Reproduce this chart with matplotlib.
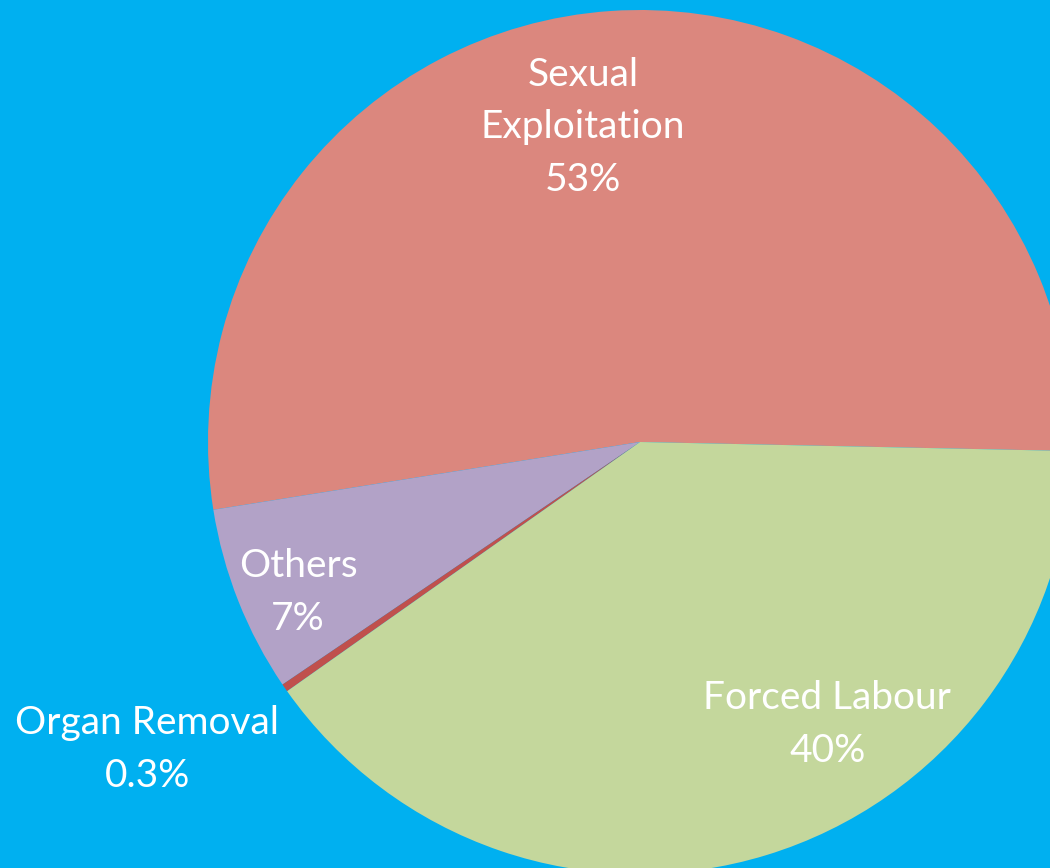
import matplotlib
matplotlib.use("Agg")
import matplotlib.pyplot as plt
import numpy as np

categories = ["Sexual\nExploitation", "Others", "Organ Removal", "Forced Labour"]
values = [53, 7, 0.3, 40]
pct_labels = ["53%", "7%", "0.3%", "40%"]
colors = ["#DB877E", "#B2A2C7", "#C0504D", "#C4D79C"]

bg = "#00B0F0"
W, H = 1050, 868
cx, cy, R = 640, 442, 432

fig = plt.figure(figsize=(W / 100, H / 100), dpi=100, facecolor=bg)
ax = fig.add_axes([0, 0, 1, 1])
ax.set_facecolor(bg)
ax.pie(values, colors=colors, startangle=-1.2, counterclock=True,
       wedgeprops=dict(linewidth=0), radius=1.0)
ax.set_aspect("auto")
ax.set_xlim(-cx / R, (W - cx) / R)
ax.set_ylim(-(H - cy) / R, cy / R)
ax.axis("off")

# label placement (angle in degrees, radial distance)
label_pos = [(100.3, 0.74), (203.8, 0.865), (212.0, 1.345), (-56.5, 0.785)]
for cat, pct, (ang, r) in zip(categories, pct_labels, label_pos):
    a = np.deg2rad(ang)
    ax.text(r * np.cos(a), r * np.sin(a), f"{cat}\n{pct}", ha="center", va="center",
            color="white", fontsize=28, family="Lato", linespacing=1.58)

fig.savefig("out.png", dpi=100, facecolor=bg)
